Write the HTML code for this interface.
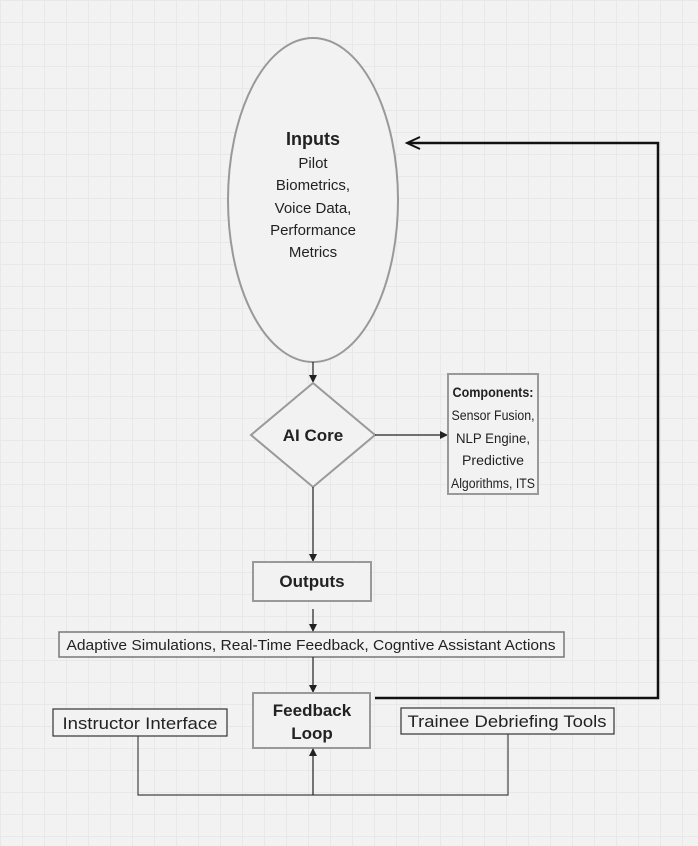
<!DOCTYPE html>
<html><head><style>
html,body{margin:0;padding:0;}
body{width:698px;height:846px;background:#f2f2f2;
background-image:linear-gradient(#e8e8e8 1px,transparent 1px),linear-gradient(90deg,#e8e8e8 1px,transparent 1px);
background-size:22px 22px;font-family:"Liberation Sans",sans-serif;}
</style></head><body>
<svg width="698" height="846" viewBox="0 0 698 846" xmlns="http://www.w3.org/2000/svg" style="position:absolute;left:0;top:0" font-family="Liberation Sans, sans-serif" fill="#222">
<defs>
<marker id="a" markerWidth="8" markerHeight="8" refX="7" refY="4" orient="auto" markerUnits="userSpaceOnUse"><path d="M0,0 L8,4 L0,8 Z" fill="#222"/></marker>
</defs>
<ellipse cx="313" cy="200" rx="85" ry="162" fill="#f2f2f2" stroke="#999" stroke-width="2"/>
<g text-anchor="middle" font-size="15">
<text x="313" y="145" font-size="18" font-weight="bold">Inputs</text>
<text x="313" y="168">Pilot</text>
<text x="313" y="190">Biometrics,</text>
<text x="313" y="213">Voice Data,</text>
<text x="313" y="235">Performance</text>
<text x="313" y="257">Metrics</text>
</g>
<line x1="313" y1="362" x2="313" y2="382" stroke="#222" stroke-width="1.2" marker-end="url(#a)"/>
<polygon points="313,383 375,435 313,487 251,435" fill="#f2f2f2" stroke="#999" stroke-width="2"/>
<text x="313" y="441" text-anchor="middle" font-size="17" font-weight="bold">AI Core</text>
<line x1="375" y1="435" x2="447" y2="435" stroke="#222" stroke-width="1.2" marker-end="url(#a)"/>
<rect x="448" y="374" width="90" height="120" fill="#f2f2f2" stroke="#999" stroke-width="2"/>
<g text-anchor="middle" font-size="13.5">
<text x="493" y="397" font-weight="bold" textLength="81" lengthAdjust="spacingAndGlyphs">Components:</text>
<text x="493" y="420" textLength="83" lengthAdjust="spacingAndGlyphs">Sensor Fusion,</text>
<text x="493" y="443" textLength="74" lengthAdjust="spacingAndGlyphs">NLP Engine,</text>
<text x="493" y="465" textLength="62" lengthAdjust="spacingAndGlyphs">Predictive</text>
<text x="493" y="488" textLength="84" lengthAdjust="spacingAndGlyphs">Algorithms, ITS</text>
</g>
<line x1="313" y1="487" x2="313" y2="561" stroke="#222" stroke-width="1.2" marker-end="url(#a)"/>
<rect x="253" y="562" width="118" height="39" fill="#f2f2f2" stroke="#999" stroke-width="2"/>
<text x="312" y="587" text-anchor="middle" font-size="17" font-weight="bold">Outputs</text>
<line x1="313" y1="609" x2="313" y2="631" stroke="#222" stroke-width="1.2" marker-end="url(#a)"/>
<rect x="59" y="632" width="505" height="25" fill="#f2f2f2" stroke="#777" stroke-width="1.5"/>
<text x="311" y="650" text-anchor="middle" font-size="15" textLength="489" lengthAdjust="spacingAndGlyphs">Adaptive Simulations, Real-Time Feedback, Cogntive Assistant Actions</text>
<line x1="313" y1="657" x2="313" y2="692" stroke="#222" stroke-width="1.2" marker-end="url(#a)"/>
<rect x="253" y="693" width="117" height="55" fill="#f2f2f2" stroke="#999" stroke-width="2"/>
<g text-anchor="middle" font-size="17" font-weight="bold">
<text x="312" y="716">Feedback</text>
<text x="312" y="739">Loop</text>
</g>
<polyline points="375,698 658,698 658,143 408,143" fill="none" stroke="#111" stroke-width="2.5"/>
<path d="M420,137 L407,143 L420,149" fill="none" stroke="#111" stroke-width="2"/>
<rect x="53" y="709" width="174" height="27" fill="#f2f2f2" stroke="#333" stroke-width="1.2"/>
<text x="140" y="729" text-anchor="middle" font-size="17" textLength="155" lengthAdjust="spacingAndGlyphs">Instructor Interface</text>
<rect x="401" y="708" width="213" height="26" fill="#f2f2f2" stroke="#333" stroke-width="1.2"/>
<text x="507" y="727" text-anchor="middle" font-size="17" textLength="199" lengthAdjust="spacingAndGlyphs">Trainee Debriefing Tools</text>
<polyline points="138,736 138,795 508,795 508,734" fill="none" stroke="#444" stroke-width="1.2"/>
<line x1="313" y1="795" x2="313" y2="749" stroke="#222" stroke-width="1.2" marker-end="url(#a)"/>
</svg>
</body></html>
